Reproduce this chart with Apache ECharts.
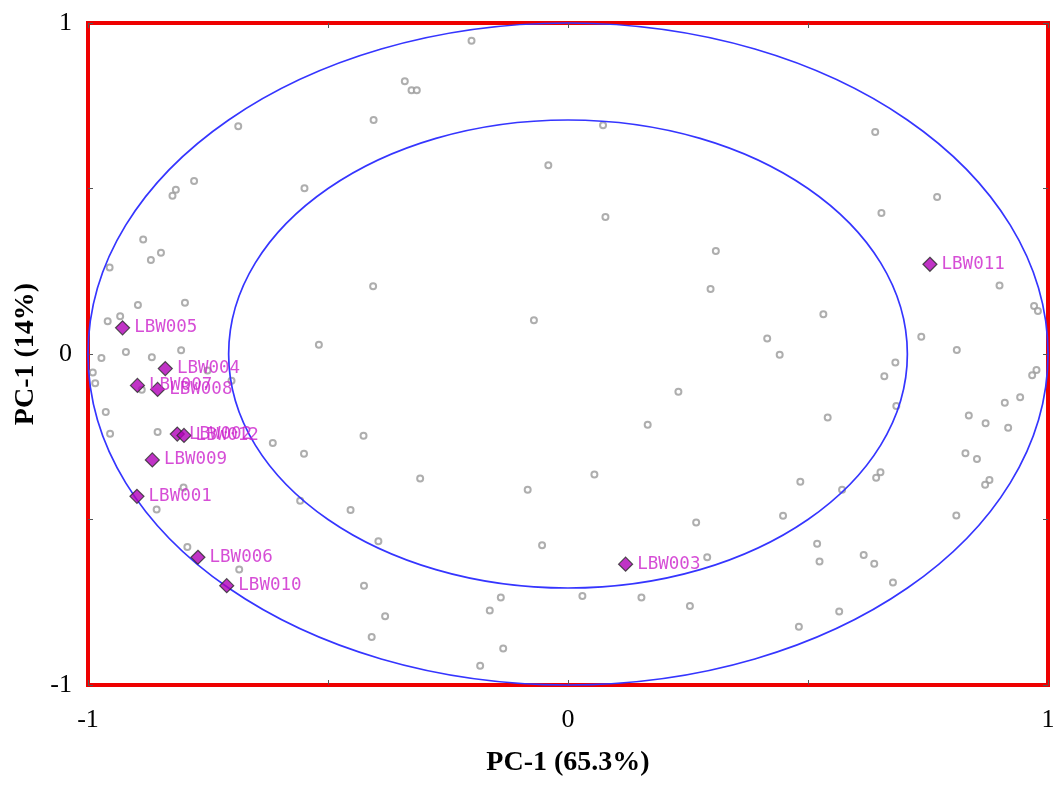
<!DOCTYPE html>
<html>
<head>
<meta charset="utf-8">
<script src="https://cdn.jsdelivr.net/npm/echarts@6/dist/echarts.min.js"></script>
<style>html,body{margin:0;padding:0;background:#fff;}#c{width:1059px;height:785px;}</style>
</head>
<body>
<div id="c"></div>
<script>
// Labeled samples
const sampleNames = ['LBW001','LBW002','LBW003','LBW004','LBW005','LBW006','LBW007','LBW008','LBW009','LBW010','LBW011','LBW012'];
const sampleX = [-0.898,-0.814,0.120,-0.839,-0.928,-0.771,-0.897,-0.855,-0.866,-0.711,0.754,-0.800];
const sampleY = [-0.430,-0.242,-0.635,-0.044,0.079,-0.614,-0.095,-0.107,-0.320,-0.700,0.271,-0.246];

// Variable loadings (grey open circles)
const varX = [-0.201,-0.340,-0.326,-0.315,-0.405,-0.687,-0.041,-0.779,-0.817,-0.824,-0.549,-0.885,-0.848,-0.869,-0.955,-0.406,-0.896,-0.798,-0.071,-0.959,-0.933,-0.519,-0.921,-0.806,
  0.073,0.640,0.769,0.653,0.078,0.308,0.297,0.899,0.532,0.971,0.979,0.415,0.736,0.810,0.441,
  -0.972,-0.867,-0.990,-0.985,-0.888,-0.751,-0.701,-0.963,-0.954,-0.855,-0.615,-0.801,-0.857,-0.426,-0.550,-0.308,-0.084,-0.558,-0.453,-0.395,-0.054,-0.793,-0.685,-0.425,-0.140,-0.163,-0.381,-0.409,-0.135,-0.183,
  0.682,0.659,0.976,0.967,0.230,0.942,0.910,0.684,0.541,0.835,0.870,0.917,0.166,0.055,0.828,0.852,0.651,0.642,0.484,0.878,0.869,0.571,0.448,0.267,0.809,0.519,0.524,0.616,0.638,0.290,0.677,0.030,0.153,0.254,0.565,0.481];
const varY = [0.946,0.824,0.797,0.797,0.707,0.688,0.570,0.523,0.496,0.478,0.501,0.346,0.306,0.284,0.261,0.205,0.148,0.155,0.102,0.099,0.114,0.028,0.006,0.011,
  0.691,0.671,0.474,0.426,0.414,0.311,0.196,0.207,0.120,0.145,0.130,0.047,0.052,0.012,-0.002,
  -0.012,-0.010,-0.056,-0.088,-0.108,-0.050,-0.081,-0.175,-0.241,-0.236,-0.269,-0.403,-0.470,-0.247,-0.301,-0.376,-0.410,-0.443,-0.471,-0.566,-0.578,-0.583,-0.651,-0.700,-0.736,-0.775,-0.792,-0.855,-0.890,-0.942,
  -0.026,-0.067,-0.048,-0.064,-0.114,-0.131,-0.147,-0.157,-0.192,-0.186,-0.209,-0.223,-0.214,-0.364,-0.300,-0.317,-0.357,-0.374,-0.386,-0.381,-0.395,-0.410,-0.489,-0.509,-0.488,-0.573,-0.627,-0.607,-0.634,-0.614,-0.690,-0.731,-0.736,-0.761,-0.778,-0.824];

// Reference ellipse radii (in axis units)
const ellipseRadii = [1, 0.707];

const xTitle = 'PC-1 (65.3%)';
const yTitle = 'PC-1 (14%)';

const chart = echarts.init(document.getElementById('c'), null, {renderer:'canvas'});

const tickLabel = {
  fontFamily: 'Liberation Serif', fontSize: 26, color: '#000',
  formatter: v => (Math.abs(v - Math.round(v)) < 1e-9 ? String(Math.round(v)) : '')
};
const tick = {show: true, inside: true, length: 5, lineStyle: {color: '#555', width: 1}};
const noLine = {show: false, onZero: false};

chart.setOption({
  animation: false,
  backgroundColor: '#fff',
  grid: {left: 88, right: 11, top: 23, bottom: 100, outerBoundsMode: 'none', containLabel: false,
         show: true, borderColor: '#ee0000', borderWidth: 4, backgroundColor: '#fff'},
  xAxis: [
    {type: 'value', min: -1, max: 1, interval: 0.5, position: 'bottom',
     axisLine: noLine, splitLine: {show: false}, axisTick: tick,
     axisLabel: Object.assign({margin: 22}, tickLabel),
     name: xTitle, nameLocation: 'middle', nameGap: 64,
     nameTextStyle: {fontFamily: 'Liberation Serif', fontSize: 28, fontWeight: 'bold', color: '#000'}},
    {type: 'value', min: -1, max: 1, interval: 0.5, position: 'top',
     axisLine: noLine, splitLine: {show: false}, axisTick: tick, axisLabel: {show: false}}
  ],
  yAxis: [
    {type: 'value', min: -1, max: 1, interval: 0.5, position: 'left',
     axisLine: noLine, splitLine: {show: false}, axisTick: tick,
     axisLabel: Object.assign({margin: 16}, tickLabel),
     name: yTitle, nameLocation: 'middle', nameGap: 46, nameRotate: 90,
     nameTextStyle: {fontFamily: 'Liberation Serif', fontSize: 28, fontWeight: 'bold', color: '#000'}},
    {type: 'value', min: -1, max: 1, interval: 0.5, position: 'right',
     axisLine: noLine, splitLine: {show: false}, axisTick: tick, axisLabel: {show: false}}
  ],
  series: [
    {
      type: 'scatter', z: 2,
      data: varX.map((x, i) => [x, varY[i]]),
      symbol: 'emptyCircle', symbolSize: 6,
      itemStyle: {color: '#9a9a9a', borderColor: '#9a9a9a', borderWidth: 1.2},
      silent: true
    },
    {
      type: 'custom', z: 3, clip: false, silent: true,
      data: ellipseRadii.map(r => [r, r]),
      renderItem: function (params, api) {
        const c = api.coord([0, 0]);
        const s = api.size([api.value(0), api.value(1)]);
        return {type: 'ellipse', shape: {cx: c[0], cy: c[1], rx: s[0], ry: s[1]},
                style: {fill: 'none', stroke: '#3535ff', lineWidth: 1.7}};
      }
    },
    {
      type: 'scatter', z: 4,
      data: sampleX.map((x, i) => [x, sampleY[i], sampleNames[i]]),
      symbol: 'diamond', symbolSize: 14,
      itemStyle: {color: '#b000b8', borderColor: '#2a2a2a', borderWidth: 1.2},
      label: {show: true, position: 'right', distance: 4, formatter: p => p.value[2],
              fontFamily: 'DejaVu Sans Mono', fontSize: 17.5, color: '#cc22cc'}
    }
  ]
});
</script>
</body>
</html>
